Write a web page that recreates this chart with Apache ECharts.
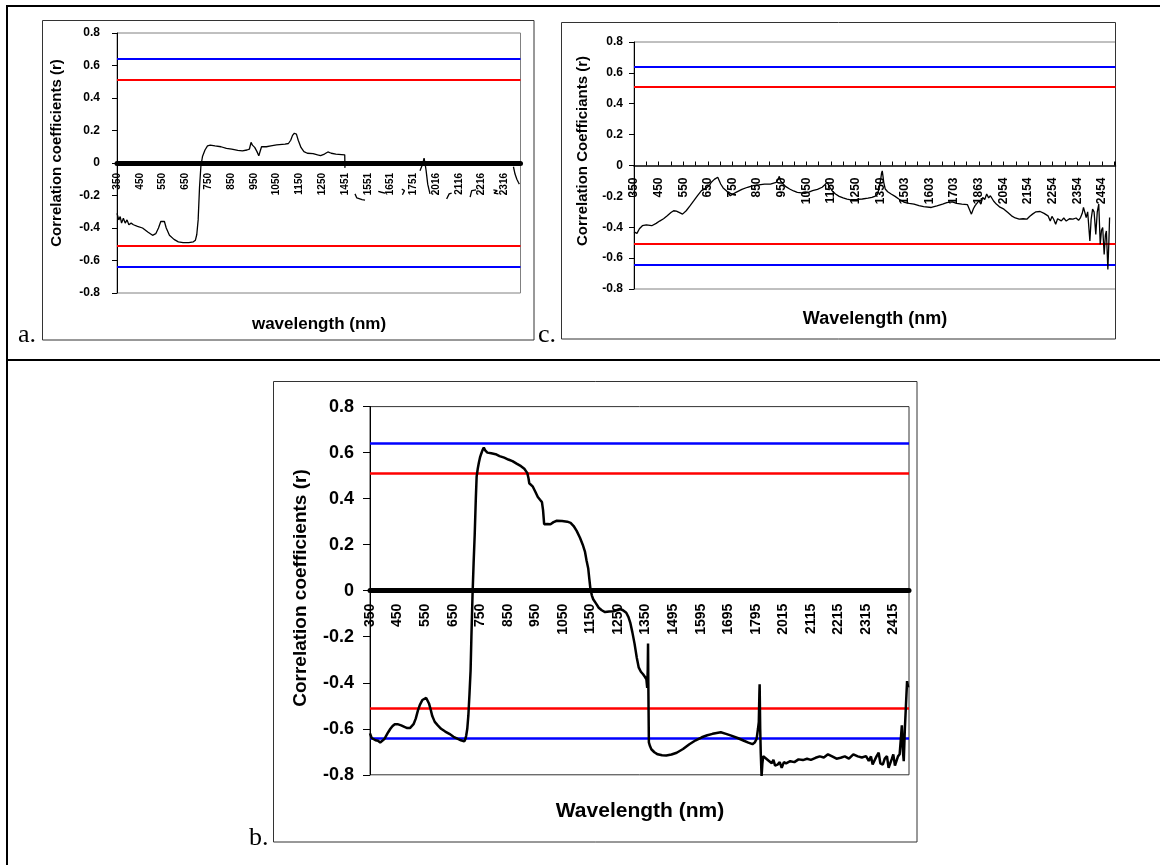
<!DOCTYPE html>
<html>
<head>
<meta charset="utf-8">
<title>Correlation coefficients vs wavelength</title>
<script src="https://cdn.jsdelivr.net/npm/echarts@6/dist/echarts.min.js"></script>
<style>
html,body{margin:0;padding:0;background:#fff;}
#chart{width:1160px;height:865px;}
</style>
</head>
<body>
<div id="chart"></div>
<script>
// x axis = band number (bad bands removed), one label every 100 bands
var ticksA = ['350','450','550','650','750','850','950','1050','1150','1250','1451','1551','1651','1751','2016','2116','2216','2316'];
var ticksB = ['350','450','550','650','750','850','950','1050','1150','1250','1350','1495','1595','1695','1795','2015','2115','2215','2315','2415'];
var ticksC = ['350','450','550','650','750','850','950','1050','1150','1250','1350','1503','1603','1703','1863','2054','2154','2254','2354','2454'];
var bandsA = 1770, bandsB = 1956, bandsC = 1955;

// critical r values (red / blue)
var critRed = 0.514, critBlue = 0.641;

// [band, r]
var curveA = [[0,-0.31],[8,-0.35],[14,-0.33],[20,-0.37],[28,-0.34],[36,-0.37],[44,-0.35],[52,-0.38],[62,-0.37],[72,-0.38],
  [90,-0.39],[112,-0.40],[135,-0.425],[156,-0.445],[170,-0.435],[182,-0.40],[192,-0.36],[200,-0.35],[208,-0.36],[216,-0.40],
  [230,-0.445],[250,-0.47],[269,-0.485],[290,-0.49],[315,-0.49],[335,-0.485],[344,-0.475],[350,-0.44],[356,-0.35],[362,-0.15],
  [368,-0.02],[375,0.04],[386,0.08],[397,0.105],[409,0.11],[430,0.105],[456,0.10],[480,0.09],[503,0.085],[530,0.078],
  [550,0.075],[570,0.08],[581,0.086],[588,0.127],[594,0.11],[604,0.096],[614,0.07],[622,0.045],[628,0.05],[634,0.10],
  [655,0.10],[675,0.106],[700,0.112],[737,0.116],[752,0.12],[762,0.14],[770,0.17],[778,0.183],[787,0.178],[795,0.14],
  [807,0.096],[820,0.07],[835,0.06],[860,0.058],[880,0.05],[893,0.046],[910,0.055],[925,0.068],[940,0.06],[960,0.055],
  [985,0.052],[999,0.05],[1000,-0.03],[1020,'-'],
  [1044,-0.19],[1052,-0.215],[1059,-0.222],[1075,-0.226],[1088,-0.228],[1100,'-'],
  [1146,-0.175],[1160,-0.18],[1176,-0.185],[1200,'-'],
  [1249,-0.16],[1261,-0.17],[1252,-0.195],[1300,'-'],
  [1329,-0.047],[1341,-0.006],[1347,0.03],[1352,-0.01],[1356,-0.047],[1363,-0.13],[1373,-0.19],[1400,'-'],
  [1446,-0.222],[1457,-0.19],[1468,-0.185],[1500,'-'],
  [1549,-0.21],[1556,-0.17],[1575,-0.165],[1600,'-'],
  [1651,-0.165],[1668,-0.17],[1654,-0.185],[1673,-0.19],[1700,'-'],
  [1739,-0.023],[1746,-0.068],[1754,-0.10],[1761,-0.12],[1765,-0.13]];

var curveB = [[0,-0.62],[6,-0.64],[12,-0.645],[20,-0.65],[29,-0.652],[37,-0.66],[44,-0.659],[52,-0.645],[59,-0.63],[66,-0.615],
  [74,-0.60],[82,-0.588],[90,-0.58],[100,-0.58],[113,-0.585],[125,-0.592],[135,-0.597],[145,-0.597],[151,-0.593],[158,-0.58],
  [166,-0.556],[174,-0.52],[181,-0.496],[190,-0.475],[197,-0.467],[204,-0.466],[209,-0.47],[214,-0.49],[219,-0.511],[226,-0.545],
  [235,-0.57],[246,-0.585],[258,-0.60],[273,-0.612],[288,-0.622],[303,-0.635],[319,-0.644],[330,-0.65],[342,-0.655],[346,-0.645],
  [349,-0.63],[353,-0.60],[357,-0.541],[361,-0.45],[365,-0.348],[368,-0.20],[372,-0.022],[376,0.12],[380,0.244],[384,0.40],
  [387,0.496],[391,0.53],[395,0.556],[399,0.578],[403,0.593],[408,0.61],[413,0.622],[418,0.61],[426,0.60],[440,0.597],
  [456,0.593],[470,0.585],[487,0.578],[502,0.57],[517,0.563],[532,0.552],[548,0.541],[560,0.53],[571,0.511],[575,0.49],
  [578,0.467],[584,0.46],[591,0.452],[600,0.43],[609,0.407],[617,0.395],[624,0.385],[628,0.35],[632,0.289],[643,0.29],
  [655,0.289],[666,0.298],[678,0.304],[697,0.303],[716,0.30],[728,0.295],[739,0.281],[750,0.26],[762,0.23],[772,0.20],
  [780,0.17],[786,0.13],[792,0.096],[796,0.05],[800,0.007],[805,-0.02],[810,-0.037],[820,-0.055],[830,-0.074],[841,-0.085],
  [853,-0.093],[868,-0.09],[884,-0.089],[895,-0.085],[907,-0.079],[918,-0.085],[930,-0.096],[938,-0.115],[945,-0.141],[952,-0.18],
  [960,-0.23],[968,-0.29],[975,-0.333],[983,-0.352],[991,-0.363],[998,-0.375],[1003,-0.385],[1006,-0.422],[1008,-0.34],[1009,-0.23],
  [1010,-0.40],[1012,-0.659],[1016,-0.675],[1021,-0.689],[1032,-0.702],[1044,-0.711],[1060,-0.715],[1075,-0.716],[1094,-0.712],[1113,-0.704],
  [1136,-0.688],[1159,-0.667],[1182,-0.65],[1204,-0.637],[1224,-0.628],[1243,-0.622],[1258,-0.618],[1273,-0.615],[1292,-0.622],[1311,-0.63],
  [1334,-0.64],[1357,-0.652],[1373,-0.66],[1388,-0.667],[1396,-0.66],[1403,-0.644],[1408,-0.60],[1411,-0.57],[1413,-0.45],[1414,-0.407],
  [1416,-0.60],[1418,-0.704],[1421,-0.807],[1424,-0.75],[1427,-0.719],[1438,-0.73],[1449,-0.741],[1458,-0.75],[1464,-0.735],[1470,-0.76],
  [1479,-0.756],[1487,-0.745],[1494,-0.77],[1502,-0.745],[1510,-0.75],[1525,-0.741],[1540,-0.745],[1555,-0.733],[1571,-0.736],[1586,-0.73],
  [1600,-0.735],[1617,-0.726],[1632,-0.72],[1647,-0.725],[1662,-0.711],[1677,-0.72],[1693,-0.73],[1708,-0.726],[1723,-0.72],[1738,-0.73],
  [1754,-0.711],[1770,-0.72],[1785,-0.725],[1800,-0.719],[1810,-0.74],[1818,-0.72],[1824,-0.755],[1830,-0.748],[1838,-0.72],[1846,-0.704],
  [1852,-0.75],[1861,-0.756],[1868,-0.73],[1876,-0.719],[1882,-0.77],[1889,-0.778],[1894,-0.73],[1899,-0.711],[1905,-0.76],[1910,-0.763],
  [1916,-0.72],[1922,-0.711],[1926,-0.65],[1930,-0.585],[1934,-0.70],[1937,-0.741],[1941,-0.60],[1945,-0.496],[1949,-0.393],[1953,-0.42]];

var curveC = [[0,-0.43],[12,-0.44],[22,-0.41],[34,-0.39],[50,-0.385],[72,-0.39],[90,-0.375],[104,-0.36],[120,-0.345],[135,-0.326],
  [150,-0.305],[161,-0.293],[172,-0.295],[185,-0.305],[197,-0.315],[212,-0.293],[228,-0.26],[243,-0.228],[258,-0.195],[274,-0.163],
  [290,-0.15],[298,-0.152],[306,-0.13],[313,-0.11],[326,-0.09],[340,-0.076],[346,-0.085],[352,-0.12],[362,-0.145],[375,-0.163],
  [391,-0.196],[402,-0.185],[414,-0.174],[438,-0.155],[461,-0.141],[484,-0.13],[507,-0.126],[530,-0.12],[554,-0.12],[577,-0.109],
  [585,-0.09],[590,-0.07],[595,-0.10],[601,-0.109],[615,-0.135],[632,-0.152],[648,-0.165],[663,-0.174],[680,-0.178],[694,-0.18],
  [710,-0.172],[725,-0.163],[745,-0.155],[764,-0.141],[775,-0.125],[784,-0.109],[790,-0.12],[795,-0.141],[805,-0.165],[818,-0.185],
  [833,-0.20],[849,-0.21],[865,-0.218],[880,-0.222],[905,-0.22],[927,-0.217],[950,-0.212],[966,-0.207],[980,-0.198],[989,-0.185],
  [996,-0.14],[1002,-0.087],[1005,-0.05],[1008,-0.035],[1011,-0.07],[1014,-0.109],[1020,-0.152],[1030,-0.17],[1044,-0.185],[1060,-0.20],
  [1075,-0.217],[1098,-0.239],[1117,-0.245],[1137,-0.25],[1157,-0.26],[1176,-0.267],[1207,-0.272],[1230,-0.262],[1253,-0.25],[1270,-0.24],
  [1292,-0.235],[1310,-0.245],[1331,-0.25],[1354,-0.254],[1362,-0.26],[1370,-0.315],[1378,-0.28],[1385,-0.26],[1392,-0.27],[1401,-0.228],
  [1408,-0.25],[1416,-0.207],[1424,-0.22],[1432,-0.185],[1440,-0.21],[1447,-0.196],[1460,-0.23],[1471,-0.25],[1486,-0.27],[1502,-0.283],
  [1518,-0.305],[1533,-0.326],[1548,-0.34],[1564,-0.348],[1580,-0.345],[1595,-0.348],[1606,-0.33],[1618,-0.315],[1632,-0.30],[1649,-0.298],
  [1665,-0.31],[1681,-0.326],[1690,-0.36],[1697,-0.33],[1704,-0.348],[1712,-0.38],[1720,-0.345],[1735,-0.359],[1745,-0.34],[1755,-0.36],
  [1768,-0.345],[1782,-0.348],[1795,-0.34],[1805,-0.355],[1813,-0.337],[1820,-0.31],[1825,-0.272],[1830,-0.30],[1836,-0.337],[1842,-0.30],
  [1851,-0.489],[1856,-0.35],[1862,-0.283],[1868,-0.30],[1875,-0.446],[1881,-0.30],[1887,-0.25],[1893,-0.511],[1898,-0.42],[1903,-0.402],
  [1909,-0.576],[1914,-0.45],[1918,-0.424],[1924,-0.674],[1928,-0.50],[1931,-0.337]];

var FONT = '"Liberation Sans", Arial, sans-serif';

// plot boxes of the three panels
var gridA = { left: 117, top: 33, width: 403.5, height: 260 };
var gridB = { left: 370, top: 406.6, width: 539, height: 368.2 };
var gridC = { left: 634, top: 42, width: 481.5, height: 247 };

function bandLabel(ticks) {
  return function (v) {
    if (v % 100 !== 0) return '';
    return ticks[v / 100] || '';
  };
}

function refLines(w) {
  return {
    silent: true, symbol: 'none', animation: false,
    label: { show: false },
    data: [
      { yAxis: critBlue, lineStyle: { color: '#0000ff', width: w, type: 'solid' } },
      { yAxis: critRed, lineStyle: { color: '#ff0000', width: w, type: 'solid' } },
      { yAxis: -critRed, lineStyle: { color: '#ff0000', width: w, type: 'solid' } },
      { yAxis: -critBlue, lineStyle: { color: '#0000ff', width: w, type: 'solid' } }
    ]
  };
}

function yAx(i, fs, margin, tick) {
  return {
    gridIndex: i, type: 'value', min: -0.8, max: 0.8, interval: 0.2,
    axisLine: { show: true, onZero: false, lineStyle: { color: '#000', width: 1 } },
    axisTick: { show: true, length: tick, lineStyle: { color: '#000', width: 1 } },
    splitLine: { show: false },
    axisLabel: {
      fontSize: fs, fontWeight: 'bold', fontFamily: FONT, color: '#000', margin: margin,
      formatter: function (v) { return String(Math.round(v * 10) / 10); }
    }
  };
}

// x axis sits on r = 0, i.e. half way up the plot box (y range is symmetric)
function xAx(i, g, max, interval, lineW, fs, margin, ticks, showTick) {
  return {
    gridIndex: i, type: 'value', min: 0, max: max, interval: interval,
    offset: -g.height / 2,
    axisLine: { onZero: false, lineStyle: { color: '#000', width: lineW } },
    axisTick: { show: showTick, inside: true, length: 4, lineStyle: { color: '#000', width: 1 } },
    splitLine: { show: false },
    axisLabel: { rotate: 90, fontSize: fs, fontWeight: 'bold', fontFamily: FONT, color: '#000', margin: margin, hideOverlap: false, formatter: bandLabel(ticks) }
  };
}

function gridOf(g, border) {
  return { left: g.left, top: g.top, width: g.width, height: g.height, show: true, borderColor: border, borderWidth: 1, outerBoundsMode: 'none' };
}

var myChart = echarts.init(document.getElementById('chart'));

var option = {
  backgroundColor: '#fff',
  animation: false,
  grid: [gridOf(gridA, '#808080'), gridOf(gridB, '#333'), gridOf(gridC, '#808080')],
  xAxis: [
    xAx(0, gridA, bandsA, 100, 5, 10, 10, ticksA, false),
    xAx(1, gridB, bandsB, 100, 5, 14, 13, ticksB, false),
    xAx(2, gridC, bandsC, 50, 1.5, 12, 12, ticksC, true)
  ],
  yAxis: [yAx(0, 12, 17, 5), yAx(1, 18, 16, 7), yAx(2, 12, 11, 5)],
  series: [
    { type: 'line', xAxisIndex: 0, yAxisIndex: 0, data: curveA, symbol: 'none', z: 10, lineStyle: { color: '#000', width: 1.3 }, markLine: refLines(2) },
    { type: 'line', xAxisIndex: 1, yAxisIndex: 1, data: curveB, symbol: 'none', z: 10, lineStyle: { color: '#000', width: 2.5 }, markLine: refLines(2.5) },
    { type: 'line', xAxisIndex: 2, yAxisIndex: 2, data: curveC, symbol: 'none', z: 10, lineStyle: { color: '#000', width: 1.3 }, markLine: refLines(2) }
  ],
  graphic: [
    // table rules
    { type: 'line', shape: { x1: 6, y1: 6, x2: 1160, y2: 6 }, style: { stroke: '#000', lineWidth: 2 } },
    { type: 'line', shape: { x1: 7, y1: 6, x2: 7, y2: 865 }, style: { stroke: '#000', lineWidth: 2 } },
    { type: 'line', shape: { x1: 7, y1: 360, x2: 1160, y2: 360 }, style: { stroke: '#000', lineWidth: 2 } },
    // chart frames
    { type: 'rect', shape: { x: 42.5, y: 20.5, width: 491.5, height: 319.5 }, style: { fill: 'none', stroke: '#333', lineWidth: 1 } },
    { type: 'rect', shape: { x: 561.5, y: 22.5, width: 554, height: 316.5 }, style: { fill: 'none', stroke: '#333', lineWidth: 1 } },
    { type: 'rect', shape: { x: 273.5, y: 381.5, width: 643.5, height: 460.5 }, style: { fill: 'none', stroke: '#333', lineWidth: 1 } },
    // panel letters
    { type: 'text', x: 18, y: 335, style: { text: 'a.', font: '26px "Liberation Serif", "Times New Roman", serif', fill: '#000', verticalAlign: 'middle' } },
    { type: 'text', x: 538, y: 335, style: { text: 'c.', font: '26px "Liberation Serif", "Times New Roman", serif', fill: '#000', verticalAlign: 'middle' } },
    { type: 'text', x: 249, y: 838, style: { text: 'b.', font: '26px "Liberation Serif", "Times New Roman", serif', fill: '#000', verticalAlign: 'middle' } },
    // axis titles
    { type: 'text', x: 57, y: 153, rotation: Math.PI / 2, style: { text: 'Correlation coefficients (r)', font: 'bold 15px ' + FONT, fill: '#000', align: 'center', verticalAlign: 'middle' } },
    { type: 'text', x: 319, y: 324, style: { text: 'wavelength (nm)', font: 'bold 17px ' + FONT, fill: '#000', align: 'center', verticalAlign: 'middle' } },
    { type: 'text', x: 583, y: 151, rotation: Math.PI / 2, style: { text: 'Correlation Coefficiants (r)', font: 'bold 15px ' + FONT, fill: '#000', align: 'center', verticalAlign: 'middle' } },
    { type: 'text', x: 875, y: 319, style: { text: 'Wavelength (nm)', font: 'bold 18px ' + FONT, fill: '#000', align: 'center', verticalAlign: 'middle' } },
    { type: 'text', x: 301, y: 588, rotation: Math.PI / 2, style: { text: 'Correlation coefficients (r)', font: 'bold 19px ' + FONT, fill: '#000', align: 'center', verticalAlign: 'middle' } },
    { type: 'text', x: 640, y: 811, style: { text: 'Wavelength (nm)', font: 'bold 21px ' + FONT, fill: '#000', align: 'center', verticalAlign: 'middle' } }
  ]
};

myChart.setOption(option);
window.addEventListener('resize', function () {
  myChart.resize();
});
</script>
</body>
</html>
